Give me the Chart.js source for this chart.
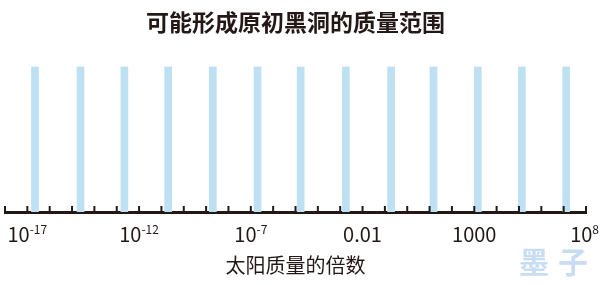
<!DOCTYPE html>
<html>
<head>
<meta charset="utf-8">
<script src="https://cdn.jsdelivr.net/npm/chart.js@4"></script>
<style>
  body { margin: 0; background: #fff; }
  #wrap { width: 601px; height: 285px; position: relative; }
</style>
</head>
<body>
<div id="wrap"><canvas id="myChart"></canvas></div>
<script>
// dados
const masses = [2.2e-17, 2.4e-15, 2.2e-13, 2e-11, 2e-9, 2e-7, 1.7e-5, 1.8e-3, 0.19, 15, 1450, 1.35e5, 1.3e7];
const heights = [1, 1, 1, 1, 1, 1, 1, 1, 1, 1, 1, 1, 1];
const tickValues = [1e-17, 1e-12, 1e-7, 0.01, 1000, 1e8];
const tickBases = ['10', '10', '10', '0.01', '1000', '10'];
const tickExps = ['-17', '-12', '-7', '', '', '8'];
const decadeTicks = [];
for (let e = -18; e <= 8; e++) decadeTicks.push(Math.pow(10, e));

const ink = '#231815';
const cjk = '"Noto Sans CJK SC", "Noto Sans", sans-serif';

// tick marks pointing up + labels with superscript
const axisDecor = {
  id: 'axisDecor',
  afterDraw(chart) {
    const ctx = chart.ctx;
    const xs = chart.scales.x;
    const bottom = chart.chartArea.bottom;
    ctx.save();
    ctx.strokeStyle = ink;
    ctx.lineWidth = 2;
    xs.ticks.forEach((t) => {
      const px = xs.getPixelForValue(t.value);
      ctx.beginPath();
      ctx.moveTo(px, bottom);
      ctx.lineTo(px, bottom - 6);
      ctx.stroke();
    });

    ctx.fillStyle = ink;
    ctx.textBaseline = 'alphabetic';
    tickValues.forEach((v, i) => {
      const px = xs.getPixelForValue(v);
      ctx.font = '20px ' + cjk;
      const wb = ctx.measureText(tickBases[i]).width;
      ctx.font = '12px ' + cjk;
      const we = tickExps[i] ? ctx.measureText(tickExps[i]).width : 0;
      let x0 = px - (wb + we) / 2;
      if (i === tickValues.length - 1) x0 = Math.min(x0, 599 - wb - we);
      ctx.textAlign = 'left';
      ctx.font = '20px ' + cjk;
      ctx.fillText(tickBases[i], x0, 242);
      if (tickExps[i]) {
        ctx.font = '12px ' + cjk;
        ctx.fillText(tickExps[i], x0 + wb, 234);
      }
    });

    // watermark
    ctx.fillStyle = '#c8ddf4';
    ctx.font = 'bold 30px ' + cjk;
    ctx.textAlign = 'center';
    ctx.fillText('墨', 534, 273);
    ctx.fillText('子', 573, 273);
    ctx.restore();
  },
};

const ctx = document.getElementById('myChart');
const myChart = new Chart(ctx, {
  type: 'bar',
  data: {
    datasets: [
      {
        label: '质量范围',
        data: masses.map((m, i) => ({ x: m, y: heights[i] })),
        backgroundColor: '#bde0f3',
        borderWidth: 0,
        barThickness: 7,
      },
    ],
  },
  options: {
    responsive: true,
    maintainAspectRatio: false,
    animation: false,
    layout: { padding: { left: 5, right: 15, top: 0, bottom: 0 } },
    plugins: {
      legend: { display: false },
      tooltip: { enabled: false },
      title: {
        display: true,
        text: '可能形成原初黑洞的质量范围',
        color: ink,
        font: { family: cjk, size: 23, weight: 'bold', lineHeight: 1.2 },
        padding: { top: 8, bottom: 31 },
      },
    },
    scales: {
      x: {
        type: 'logarithmic',
        min: 1e-18,
        max: 1e8,
        z: 1,
        afterBuildTicks: (scale) => {
          scale.ticks = decadeTicks.map((v) => ({ value: v }));
        },
        afterFit: (scale) => {
          scale.height = 73;
        },
        ticks: { display: false },
        grid: { display: false, drawTicks: false },
        border: { display: true, color: ink, width: 3 },
        title: {
          display: true,
          text: '太阳质量的倍数',
          color: ink,
          font: { family: cjk, size: 20, lineHeight: 1.2 },
          padding: { top: 0, bottom: 8 },
        },
      },
      y: {
        display: false,
        min: 0,
        max: 1,
      },
    },
  },
  plugins: [axisDecor],
});
</script>
</body>
</html>
